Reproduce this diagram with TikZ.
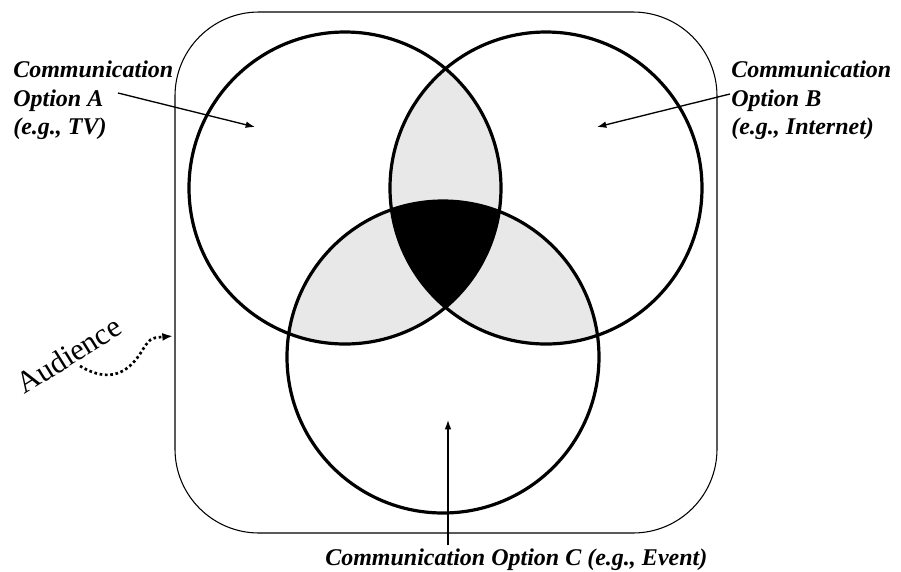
\documentclass[tikz,border=0pt]{standalone}
\usepackage{fontspec}
\setmainfont{Liberation Serif}
\usetikzlibrary{arrows.meta, positioning}
\definecolor{vnShade}{HTML}{E8E8E8}

\begin{document}
\begin{tikzpicture}[x=0.75pt, y=-0.75pt,
    ring/.style={line width=2.4pt},
    lbl/.style={font=\bfseries\itshape\fontsize{18}{21.4}\selectfont, inner sep=0pt, align=left},
    pointer/.style={line width=1pt, -{Latex[length=7pt, width=5pt]}}]
  \useasboundingbox (0,0) rectangle (901,572);
  \coordinate (cA) at (345,188);
  \coordinate (cB) at (546,188);
  \coordinate (cC) at (443,357);
  \draw[line width=0.8pt, rounded corners=63pt] (175,12) rectangle (717,533);
  \begin{scope}
    \clip (cA) circle (156);
    \fill[vnShade] (cB) circle (156);
    \fill[vnShade] (cC) circle (156);
  \end{scope}
  \begin{scope}
    \clip (cB) circle (156);
    \fill[vnShade] (cC) circle (156);
  \end{scope}
  \begin{scope}
    \clip (cA) circle (156);
    \clip (cB) circle (156);
    \fill[black] (cC) circle (156);
  \end{scope}
  \draw[ring] (cA) circle (156);
  \draw[ring] (cB) circle (156);
  \draw[ring] (cC) circle (156);
  \node[lbl, anchor=north west] (labA) at (13,61) {Communication\\Option A\\(e.g., TV)};
  \node[lbl, anchor=north west] (labB) at (731,61) {Communication\\Option B\\(e.g., Internet)};
  \node[lbl, anchor=base west] (labC) at (325,565) {Communication Option C (e.g., Event)};
  \node[font=\fontsize{23}{26}\selectfont, rotate=32, anchor=base west, inner sep=0pt] (aud) at (24,395) {Audience};
  \coordinate (tailA) at (118,93);
  \coordinate (tipA) at (255,127);
  \coordinate (tailB) at (730,94);
  \coordinate (tipB) at (597,127);
  \coordinate (tailC) at (448,545);
  \coordinate (tipC) at (448,420);
  \coordinate (audS) at (80,366);
  \coordinate (audE) at (173,336);
  \draw[pointer] (tailA) -- (tipA);
  \draw[pointer] (tailB) -- (tipB);
  \draw[pointer] (tailC) -- (tipC);
  \draw[line width=2pt, dotted, -{Latex[length=8pt, width=6pt]}] (audS) .. controls (110,384) and (128,372) .. (140,354) .. controls (150,338) .. (audE);
\end{tikzpicture}
\end{document}
